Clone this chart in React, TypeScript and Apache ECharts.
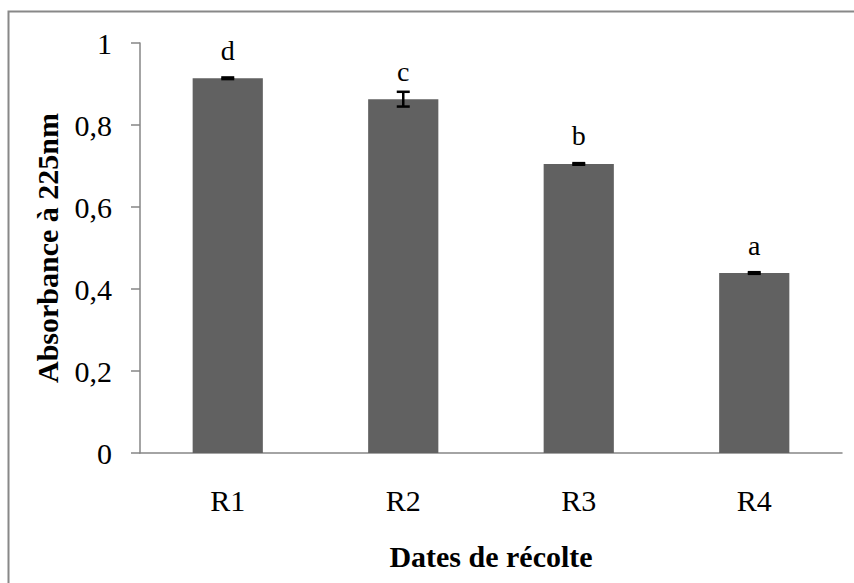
import React, { useEffect, useRef } from "react";
import * as echarts from "echarts";

const categories = ["R1", "R2", "R3", "R4"];
const values = [0.914, 0.863, 0.705, 0.439];
const errors = [0.002, 0.018, 0.002, 0.002];
const letters = ["d", "c", "b", "a"];
const yTicks = [0, 0.2, 0.4, 0.6, 0.8, 1];

const FONT = "'Liberation Serif', 'Times New Roman', serif";

export default function App() {
  const ref = useRef<HTMLDivElement>(null);
  useEffect(() => {
    if (!ref.current) return;
    const chart = echarts.init(ref.current, undefined, { renderer: "svg" });
    chart.setOption({
      animation: false,
      backgroundColor: "#ffffff",
      graphic: [
        {
          type: "rect",
          shape: { x: 8.5, y: 11.5, width: 900, height: 700 },
          style: { fill: "none", stroke: "#888888", lineWidth: 2 },
          silent: true,
          z: 0,
        },
      ],
      grid: { left: 140, right: 12, top: 43, bottom: 130 },
      xAxis: {
        type: "category",
        data: categories,
        axisLine: { lineStyle: { color: "#868686", width: 1.5 } },
        axisTick: { show: false },
        axisLabel: { color: "#000", fontFamily: FONT, fontSize: 30, margin: 32 },
        name: "Dates de récolte",
        nameLocation: "middle",
        nameGap: 88,
        nameTextStyle: { color: "#000", fontFamily: FONT, fontSize: 30, fontWeight: "bold" },
      },
      yAxis: {
        type: "value",
        min: yTicks[0],
        max: yTicks[yTicks.length - 1],
        interval: 0.2,
        splitLine: { show: false },
        axisLine: { show: true, lineStyle: { color: "#868686", width: 1.5 } },
        axisTick: { show: true, inside: false, length: 9, lineStyle: { color: "#868686", width: 1.5 } },
        axisLabel: {
          color: "#000",
          fontFamily: FONT,
          fontSize: 30,
          margin: 28,
          formatter: (v: number) => String(Number(v.toFixed(1))).replace(".", ","),
        },
        name: "Absorbance à 225nm",
        nameLocation: "middle",
        nameGap: 78,
        nameTextStyle: { color: "#000", fontFamily: FONT, fontSize: 30, fontWeight: "bold" },
      },
      series: [
        {
          type: "bar",
          data: values,
          barWidth: "40%",
          itemStyle: { color: "#616161" },
          label: {
            show: true,
            position: "top",
            distance: 14,
            color: "#000",
            fontFamily: FONT,
            fontSize: 28,
            formatter: (p: any) => letters[p.dataIndex],
          },
          z: 2,
        },
        {
          type: "custom",
          data: values.map((v, i) => [i, v - errors[i], v + errors[i]]),
          z: 5,
          renderItem: (params: any, api: any) => {
            const x = api.value(0);
            const lo = api.coord([x, api.value(1)]);
            const hi = api.coord([x, api.value(2)]);
            const half = 6.5;
            const style = { stroke: "#000", lineWidth: 2.5 };
            return {
              type: "group",
              children: [
                { type: "line", shape: { x1: lo[0], y1: lo[1], x2: hi[0], y2: hi[1] }, style },
                { type: "line", shape: { x1: lo[0] - half, y1: lo[1], x2: lo[0] + half, y2: lo[1] }, style },
                { type: "line", shape: { x1: hi[0] - half, y1: hi[1], x2: hi[0] + half, y2: hi[1] }, style },
              ],
            };
          },
        },
      ],
    });
    return () => chart.dispose();
  }, []);
  return (
    <div
      ref={ref}
      style={{ position: "fixed", left: 0, top: 0, width: 854, height: 583, background: "#fff" }}
    />
  );
}
